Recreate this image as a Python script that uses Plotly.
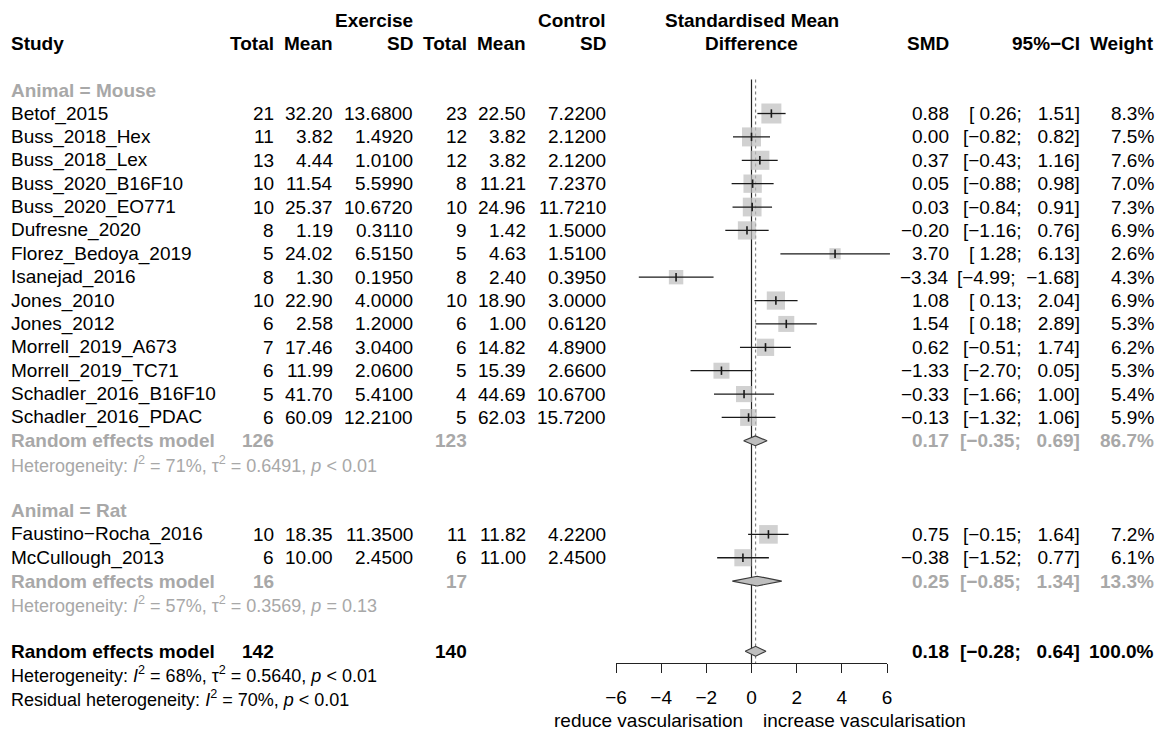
import plotly.graph_objects as go

# ---------------- data ----------------
mouse_study = ["Betof_2015", "Buss_2018_Hex", "Buss_2018_Lex", "Buss_2020_B16F10",
               "Buss_2020_EO771", "Dufresne_2020", "Florez_Bedoya_2019", "Isanejad_2016",
               "Jones_2010", "Jones_2012", "Morrell_2019_A673", "Morrell_2019_TC71",
               "Schadler_2016_B16F10", "Schadler_2016_PDAC"]
mouse_e_n = [21, 11, 13, 10, 10, 8, 5, 8, 10, 6, 7, 6, 5, 6]
mouse_e_mean = [32.20, 3.82, 4.44, 11.54, 25.37, 1.19, 24.02, 1.30, 22.90, 2.58, 17.46, 11.99, 41.70, 60.09]
mouse_e_sd = [13.68, 1.492, 1.01, 5.599, 10.672, 0.311, 6.515, 0.195, 4.0, 1.2, 3.04, 2.06, 5.41, 12.21]
mouse_c_n = [23, 12, 12, 8, 10, 9, 5, 8, 10, 6, 6, 5, 4, 5]
mouse_c_mean = [22.50, 3.82, 3.82, 11.21, 24.96, 1.42, 4.63, 2.40, 18.90, 1.00, 14.82, 15.39, 44.69, 62.03]
mouse_c_sd = [7.22, 2.12, 2.12, 7.237, 11.721, 1.5, 1.51, 0.395, 3.0, 0.612, 4.89, 2.66, 10.67, 15.72]
mouse_smd = [0.88, 0.00, 0.37, 0.05, 0.03, -0.20, 3.70, -3.34, 1.08, 1.54, 0.62, -1.33, -0.33, -0.13]
mouse_lo = [0.26, -0.82, -0.43, -0.88, -0.84, -1.16, 1.28, -4.99, 0.13, 0.18, -0.51, -2.70, -1.66, -1.32]
mouse_hi = [1.51, 0.82, 1.16, 0.98, 0.91, 0.76, 6.13, -1.68, 2.04, 2.89, 1.74, 0.05, 1.00, 1.06]
mouse_w = [8.3, 7.5, 7.6, 7.0, 7.3, 6.9, 2.6, 4.3, 6.9, 5.3, 6.2, 5.3, 5.4, 5.9]

rat_study = ["Faustino\u2212Rocha_2016", "McCullough_2013"]
rat_e_n = [10, 6]
rat_e_mean = [18.35, 10.00]
rat_e_sd = [11.35, 2.45]
rat_c_n = [11, 6]
rat_c_mean = [11.82, 11.00]
rat_c_sd = [4.22, 2.45]
rat_smd = [0.75, -0.38]
rat_lo = [-0.15, -1.52]
rat_hi = [1.64, 0.77]
rat_w = [7.2, 6.1]

# pooled estimates: [mouse, rat, overall]
pooled_label = ["Animal = Mouse", "Animal = Rat"]
pooled_e_n = [126, 16, 142]
pooled_c_n = [123, 17, 140]
pooled_smd = [0.17, 0.25, 0.18]
pooled_lo = [-0.35, -0.85, -0.28]
pooled_hi = [0.69, 1.34, 0.64]
pooled_w = [86.7, 13.3, 100.0]
het_text = [
    "Heterogeneity: <i>I</i><sup>2</sup> = 71%, \u03c4<sup>2</sup> = 0.6491, <i>p</i> &lt; 0.01",
    "Heterogeneity: <i>I</i><sup>2</sup> = 57%, \u03c4<sup>2</sup> = 0.3569, <i>p</i> = 0.13",
    "Heterogeneity: <i>I</i><sup>2</sup> = 68%, \u03c4<sup>2</sup> = 0.5640, <i>p</i> &lt; 0.01",
]
resid_text = "Residual heterogeneity: <i>I</i><sup>2</sup> = 70%, <i>p</i> &lt; 0.01"

x_ticks = [-6, -4, -2, 0, 2, 4, 6]
label_left = "reduce vascularisation"
label_right = "increase vascularisation"

# ---------------- layout geometry ----------------
W, H = 1162, 734
ROW0_PX, ROW_H = 20.0, 23.38          # pixel centre of first row, row pitch
AX_LEFT_PX, AX_RIGHT_PX = 616.0, 887.0  # pixel position of -6 and 6
AXIS_PX = 663.0                          # pixel y of the forest axis line
PX_PER_UNIT = (AX_RIGHT_PX - AX_LEFT_PX) / 12.0
ZERO_PX = AX_LEFT_PX + 6 * PX_PER_UNIT

FONT = "Liberation Sans, Arial, Helvetica, sans-serif"
FS = 19
BLACK = "#000000"
GREY = "#A8A8A8"
BOX = "#BEBEBE"

# column anchors (px)
C_STUDY = 11
C_ETOT, C_EMEAN, C_ESD = 274, 333, 413
C_CTOT, C_CMEAN, C_CSD = 467, 526, 606
C_SMD, C_CI, C_W = 949, 1080, 1154


def row_of_px(py):
    return (py - ROW0_PX) / ROW_H


def fmt(v, d):
    s = f"{v:.{d}f}"
    return s.replace("-", "\u2212")


def pad(s, n):
    return "\u00a0" * max(0, n - len(s)) + s


def ci_str(lo, hi):
    return "[" + pad(fmt(lo, 2), 5) + ";\u00a0\u00a0" + pad(fmt(hi, 2), 5) + "]"


annotations = []


def txt(xpx, row, s, anchor="left", bold=False, color=BLACK, size=FS):
    if bold:
        s = "<b>" + s + "</b>"
    annotations.append(dict(
        x=xpx / W, y=row, xref="paper", yref="y", text=s, showarrow=False,
        xanchor=anchor, yanchor="middle", align=anchor, borderpad=0, borderwidth=0,
        font=dict(family=FONT, size=size, color=color)))


# ---------------- row assignment ----------------
rows_mouse = list(range(4, 4 + len(mouse_study)))
row_mouse_head = 3
row_mouse_re = rows_mouse[-1] + 1
row_rat_head = row_mouse_re + 3
rows_rat = list(range(row_rat_head + 1, row_rat_head + 1 + len(rat_study)))
row_rat_re = rows_rat[-1] + 1
row_all_re = row_rat_re + 3
pooled_rows = [row_mouse_re, row_rat_re, row_all_re]

# ---------------- header ----------------
txt(C_ESD, 0, "Exercise", "right", True)
txt(C_CSD, 0, "Control", "right", True)
txt(ZERO_PX, 0, "Standardised Mean", "center", True)
txt(C_STUDY, 1, "Study", "left", True)
for xp, lab in [(C_ETOT, "Total"), (C_EMEAN, "Mean"), (C_ESD, "SD"),
                (C_CTOT, "Total"), (C_CMEAN, "Mean"), (C_CSD, "SD"),
                (C_SMD, "SMD"), (C_CI, "95%\u2212CI"), (C_W, "Weight")]:
    txt(xp, 1, lab, "right", True)
txt(ZERO_PX, 1, "Difference", "center", True)


# ---------------- study rows ----------------
def study_rows(rows, names, en, em, esd, cn, cm, csd, smd, lo, hi, w):
    for i, r in enumerate(rows):
        txt(C_STUDY, r, names[i])
        txt(C_ETOT, r, str(en[i]), "right")
        txt(C_EMEAN, r, fmt(em[i], 2), "right")
        txt(C_ESD, r, fmt(esd[i], 4), "right")
        txt(C_CTOT, r, str(cn[i]), "right")
        txt(C_CMEAN, r, fmt(cm[i], 2), "right")
        txt(C_CSD, r, fmt(csd[i], 4), "right")
        txt(C_SMD, r, fmt(smd[i], 2), "right")
        txt(C_CI, r, ci_str(lo[i], hi[i]), "right")
        txt(C_W, r, fmt(w[i], 1) + "%", "right")


txt(C_STUDY, row_mouse_head, pooled_label[0], "left", True, GREY)
study_rows(rows_mouse, mouse_study, mouse_e_n, mouse_e_mean, mouse_e_sd, mouse_c_n,
           mouse_c_mean, mouse_c_sd, mouse_smd, mouse_lo, mouse_hi, mouse_w)
txt(C_STUDY, row_rat_head, pooled_label[1], "left", True, GREY)
study_rows(rows_rat, rat_study, rat_e_n, rat_e_mean, rat_e_sd, rat_c_n,
           rat_c_mean, rat_c_sd, rat_smd, rat_lo, rat_hi, rat_w)

for k, r in enumerate(pooled_rows):
    col = BLACK if k == 2 else GREY
    txt(C_STUDY, r, "Random effects model", "left", True, col)
    txt(C_ETOT, r, str(pooled_e_n[k]), "right", True, col)
    txt(C_CTOT, r, str(pooled_c_n[k]), "right", True, col)
    txt(C_SMD, r, fmt(pooled_smd[k], 2), "right", True, col)
    txt(C_CI, r, ci_str(pooled_lo[k], pooled_hi[k]), "right", True, col)
    txt(C_W, r, fmt(pooled_w[k], 1) + "%", "right", True, col)
    txt(C_STUDY, r + 1, het_text[k], "left", False, col, 18)
txt(C_STUDY, row_all_re + 2, resid_text, "left", False, BLACK, 18)

axis_row = row_of_px(AXIS_PX)
txt(ZERO_PX - 9, axis_row + 2.45, label_left, "right")
txt(ZERO_PX + 11, axis_row + 2.45, label_right, "left")

# ---------------- forest marks ----------------
all_rows = rows_mouse + rows_rat
all_smd = mouse_smd + rat_smd
all_lo = mouse_lo + rat_lo
all_hi = mouse_hi + rat_hi
all_w = mouse_w + rat_w

fig = go.Figure()

line_top = row_mouse_head - 0.45
# reference line at zero and dotted line at the overall estimate
fig.add_trace(go.Scatter(x=[0, 0], y=[line_top, axis_row], mode="lines",
                         line=dict(color="#222222", width=1.2), hoverinfo="skip"))
fig.add_trace(go.Scatter(x=[pooled_smd[2]] * 2, y=[line_top, axis_row], mode="lines",
                         line=dict(color="#808080", width=1.2, dash="dot"), hoverinfo="skip"))

# squares sized by study weight
fig.add_trace(go.Scatter(
    x=all_smd, y=all_rows, mode="markers",
    marker=dict(symbol="square", size=[6.94 * w ** 0.5 for w in all_w],
                color=BOX, line=dict(width=0)), hoverinfo="skip"))

# confidence intervals
cx, cy = [], []
for r, lo, hi in zip(all_rows, all_lo, all_hi):
    cx += [lo, hi, None]
    cy += [r, r, None]
fig.add_trace(go.Scatter(x=cx, y=cy, mode="lines",
                         line=dict(color="#1a1a1a", width=1.3), hoverinfo="skip"))
fig.add_trace(go.Scatter(
    x=all_smd, y=all_rows, mode="markers",
    marker=dict(symbol="line-ns", size=6, line=dict(width=1.6, color="#1a1a1a")),
    hoverinfo="skip"))

# pooled diamonds
DH = 0.21
for k, r in enumerate(pooled_rows):
    fig.add_trace(go.Scatter(
        x=[pooled_lo[k], pooled_smd[k], pooled_hi[k], pooled_smd[k], pooled_lo[k]],
        y=[r, r - DH, r, r + DH, r], mode="lines", fill="toself",
        fillcolor=BOX, line=dict(color="#3a3a3a", width=1.1), hoverinfo="skip"))

# invisible trace carrying the tick axis
fig.add_trace(go.Scatter(x=[-6, 6], y=[axis_row, axis_row], xaxis="x2", yaxis="y",
                         mode="markers", marker=dict(opacity=0), hoverinfo="skip"))

x_lo = (0 - ZERO_PX) / PX_PER_UNIT
x_hi = (W - ZERO_PX) / PX_PER_UNIT
fig.update_layout(
    template="none",
    width=W, height=H, margin=dict(l=0, r=0, t=0, b=0, pad=0), autosize=False,
    paper_bgcolor="white", plot_bgcolor="rgba(0,0,0,0)",
    showlegend=False, annotations=annotations,
    xaxis=dict(domain=[0, 1], range=[x_lo, x_hi], visible=False, fixedrange=True,
               automargin=False),
    yaxis=dict(domain=[0, 1], range=[row_of_px(H), row_of_px(0)], visible=False,
               fixedrange=True, automargin=False),
    xaxis2=dict(domain=[AX_LEFT_PX / W, AX_RIGHT_PX / W], range=[-6, 6],
                anchor="free", position=1 - AXIS_PX / H, automargin=False,
                showline=True, linecolor="#222222", linewidth=1.2,
                ticks="outside", ticklen=9, tickwidth=1.2, tickcolor="#222222",
                tickvals=x_ticks, showgrid=False, zeroline=False, ticklabelstandoff=8,
                tickfont=dict(family=FONT, size=FS, color=BLACK), fixedrange=True),
)

fig.write_html("out.html")
